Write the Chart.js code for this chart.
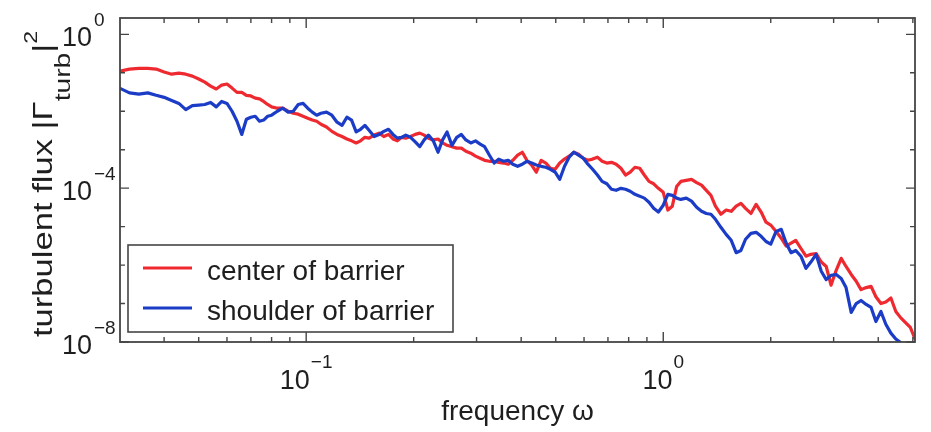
<!DOCTYPE html>
<html>
<head>
<meta charset="utf-8">
<script src="https://cdn.jsdelivr.net/npm/chart.js@4.4.1/dist/chart.umd.min.js"></script>
<style>
  html, body { margin: 0; padding: 0; background: #ffffff; }
  #wrap { width: 931px; height: 432px; }
</style>
</head>
<body>
<div id="wrap"><canvas id="spectrum" width="931" height="432"></canvas></div>
<script>
// Frequency grid shared by both spectra
const frequency = [
  0.030, 0.032, 0.034, 0.036, 0.038, 0.040, 0.042, 0.044, 0.046, 0.048,
  0.050, 0.052, 0.054, 0.056, 0.058, 0.060, 0.062, 0.064, 0.066, 0.068,
  0.070, 0.072, 0.074, 0.076, 0.078, 0.080, 0.083, 0.086, 0.089, 0.092,
  0.095, 0.098, 0.101, 0.104, 0.107, 0.110, 0.114, 0.118, 0.122, 0.126,
  0.130, 0.134, 0.138, 0.142, 0.146, 0.150, 0.155, 0.160, 0.165, 0.170,
  0.175, 0.180, 0.185, 0.190, 0.196, 0.202, 0.208, 0.214, 0.220, 0.227,
  0.234, 0.241, 0.248, 0.256, 0.264, 0.272, 0.280, 0.289, 0.298, 0.307,
  0.316, 0.326, 0.336, 0.346, 0.357, 0.368, 0.379, 0.391, 0.403, 0.415,
  0.428, 0.441, 0.455, 0.469, 0.483, 0.498, 0.513, 0.529, 0.545, 0.562,
  0.579, 0.597, 0.615, 0.634, 0.654, 0.674, 0.695, 0.716, 0.738, 0.761,
  0.784, 0.808, 0.833, 0.859, 0.885, 0.912, 0.940, 0.969, 1.00, 1.03,
  1.06, 1.09, 1.12, 1.16, 1.20, 1.24, 1.28, 1.32, 1.36, 1.40,
  1.45, 1.50, 1.55, 1.60, 1.65, 1.70, 1.76, 1.82, 1.88, 1.94,
  2.00, 2.07, 2.14, 2.21, 2.28, 2.35, 2.43, 2.51, 2.59, 2.68,
  2.77, 2.86, 2.95, 3.05, 3.15, 3.25, 3.36, 3.47, 3.58, 3.70,
  3.82, 3.94, 4.07, 4.20, 4.34, 4.48, 4.62, 4.77, 4.92, 5.07
];

// Turbulent flux spectrum |Gamma_turb|^2 at the barrier center
const centerOfBarrier = [
  0.11, 0.125, 0.13, 0.13, 0.125, 0.105, 9.2e-2, 9.8e-2, 9.2e-2, 8.2e-2,
  6.9e-2, 5.7e-2, 4.5e-2, 3.8e-2, 4.8e-2, 5.1e-2, 4.0e-2, 3.1e-2, 3.1e-2, 2.6e-2,
  2.5e-2, 2.2e-2, 2.1e-2, 1.8e-2, 1.5e-2, 1.3e-2, 1.2e-2, 1.2e-2, 1.0e-2, 8.9e-3,
  8.4e-3, 7.4e-3, 6.6e-3, 5.9e-3, 5.5e-3, 4.6e-3, 3.9e-3, 3.0e-3, 2.5e-3, 2.2e-3,
  1.9e-3, 1.7e-3, 1.5e-3, 1.7e-3, 2.1e-3, 2.0e-3, 2.4e-3, 2.7e-3, 2.2e-3, 2.5e-3,
  1.9e-3, 1.7e-3, 2.1e-3, 2.0e-3, 2.2e-3, 2.5e-3, 2.7e-3, 2.4e-3, 2.0e-3, 1.8e-3,
  1.9e-3, 1.5e-3, 1.3e-3, 1.2e-3, 1.1e-3, 1.1e-3, 9.1e-4, 8.1e-4, 6.8e-4, 6.0e-4,
  5.3e-4, 5.0e-4, 5.0e-4, 4.7e-4, 4.5e-4, 4.2e-4, 5.3e-4, 7.2e-4, 8.6e-4, 5.3e-4,
  4.0e-4, 2.6e-4, 5.3e-4, 4.5e-4, 3.3e-4, 3.1e-4, 4.5e-4, 5.7e-4, 6.8e-4, 8.6e-4,
  7.6e-4, 6.0e-4, 5.3e-4, 5.7e-4, 6.4e-4, 5.0e-4, 4.5e-4, 4.7e-4, 4.2e-4, 3.3e-4,
  2.2e-4, 2.6e-4, 3.5e-4, 3.3e-4, 2.2e-4, 1.5e-4, 1.3e-4, 9.9e-5, 7.8e-5, 2.7e-5,
  3.4e-5, 1.1e-4, 1.5e-4, 1.6e-4, 1.7e-4, 1.4e-4, 1.2e-4, 8.8e-5, 6.5e-5, 3.4e-5,
  2.1e-5, 2.7e-5, 2.5e-5, 3.4e-5, 4.0e-5, 3.0e-5, 2.2e-5, 3.8e-5, 2.4e-5, 1.3e-5,
  1.1e-5, 7.5e-6, 5.0e-6, 3.1e-6, 3.7e-6, 4.4e-6, 2.7e-6, 1.7e-6, 1.9e-6, 2.0e-6,
  1.2e-6, 9.2e-7, 3.0e-7, 7.3e-7, 1.5e-6, 9.2e-7, 5.7e-7, 3.8e-7, 2.3e-7, 2.6e-7,
  2.8e-7, 1.5e-7, 1.0e-7, 1.1e-7, 1.4e-7, 6.2e-8, 4.3e-8, 3.2e-8, 2.4e-8, 1.2e-8
];

// Turbulent flux spectrum at the barrier shoulder
const shoulderOfBarrier = [
  4.0e-2, 3.0e-2, 2.8e-2, 3.0e-2, 2.6e-2, 2.3e-2, 1.9e-2, 1.6e-2, 1.1e-2, 1.4e-2,
  1.45e-2, 1.5e-2, 1.7e-2, 1.3e-2, 1.8e-2, 1.6e-2, 1.0e-2, 5.5e-3, 2.5e-3, 6.2e-3,
  7.0e-3, 7.4e-3, 5.5e-3, 5.9e-3, 7.4e-3, 7.9e-3, 1.0e-2, 1.2e-2, 9.5e-3, 1.0e-2,
  1.5e-2, 1.6e-2, 1.2e-2, 9.5e-3, 7.9e-3, 8.9e-3, 9.5e-3, 7.9e-3, 5.2e-3, 4.3e-3,
  7.0e-3, 5.9e-3, 2.9e-3, 3.4e-3, 4.3e-3, 3.2e-3, 2.2e-3, 2.5e-3, 3.0e-3, 3.4e-3,
  2.5e-3, 2.0e-3, 2.1e-3, 2.4e-3, 2.1e-3, 1.6e-3, 1.2e-3, 1.8e-3, 2.4e-3, 1.7e-3,
  8.6e-4, 1.8e-3, 2.9e-3, 1.3e-3, 2.1e-3, 2.5e-3, 1.8e-3, 1.5e-3, 1.7e-3, 1.4e-3,
  1.2e-3, 7.2e-4, 4.5e-4, 5.7e-4, 5.0e-4, 5.3e-4, 4.2e-4, 3.7e-4, 4.2e-4, 5.0e-4,
  4.5e-4, 4.0e-4, 3.7e-4, 3.5e-4, 3.1e-4, 2.6e-4, 1.7e-4, 3.7e-4, 6.4e-4, 8.6e-4,
  7.2e-4, 6.0e-4, 4.2e-4, 3.1e-4, 2.2e-4, 1.5e-4, 1.3e-4, 9.4e-5, 8.8e-5, 9.9e-5,
  9.4e-5, 8.3e-5, 6.9e-5, 6.2e-5, 5.5e-5, 4.3e-5, 3.0e-5, 2.4e-5, 3.6e-5, 6.9e-5,
  6.5e-5, 5.5e-5, 5.1e-5, 5.5e-5, 4.6e-5, 3.2e-5, 2.5e-5, 2.2e-5, 2.1e-5, 1.55e-5,
  9.6e-6, 6.3e-6, 4.4e-6, 2.1e-6, 2.4e-6, 4.7e-6, 6.7e-6, 7.1e-6, 5.6e-6, 4.1e-6,
  3.5e-6, 7.5e-6, 8.5e-6, 3.7e-6, 2.1e-6, 2.4e-6, 1.7e-6, 8.2e-7, 1.2e-6, 1.9e-6,
  6.9e-7, 4.2e-7, 5.4e-7, 5.7e-7, 4.5e-7, 2.6e-7, 5.9e-8, 1.0e-7, 1.2e-7, 9.5e-8,
  7.9e-8, 3.4e-8, 6.2e-8, 2.9e-8, 1.7e-8, 1.2e-8, 9.7e-9, 8.1e-9, 6.7e-9, 5.3e-9
];

const seriesLabels = ['center of barrier', 'shoulder of barrier'];
const seriesColors = ['#ee2a30', '#1b3cc6'];

// Axis ranges and labelled decades
const xRange = [0.0301, 5.07];
const yRange = [1e-8, 2.66];
const xTickExponents = [-1, 0];
const yTickExponents = [0, -4, -8];
const xAxisTitle = 'frequency \u03c9';

const FONT = "'Liberation Sans', Arial, Helvetica, sans-serif";
const INK = '#1e1e1e';
const FRAME = '#454545';

function toPoints(ys) {
  return frequency.map((f, i) => ({ x: f, y: ys[i] }));
}

function expLabel(e) {
  return e < 0 ? '\u2212' + Math.abs(e) : String(e);
}

// Box frame, inward ticks, power-of-ten labels, titles and boxed legend
const framePlugin = {
  id: 'framePlugin',
  afterDatasetsDraw(chart) {
    const { ctx, chartArea: a } = chart;
    const xs = chart.scales.x, ys = chart.scales.y;
    ctx.save();

    // frame
    ctx.strokeStyle = FRAME;
    ctx.lineWidth = 1.8;
    ctx.strokeRect(a.left, a.top, a.right - a.left, a.bottom - a.top);

    // x ticks (decades and in-between multiples)
    ctx.beginPath();
    ctx.lineWidth = 1.4;
    for (let d = -2; d <= 0; d++) {
      for (let m = 1; m <= 9; m++) {
        const v = m * Math.pow(10, d);
        if (v <= xs.min * 1.001 || v >= xs.max * 0.999) continue;
        const px = xs.getPixelForValue(v);
        const len = m === 1 ? 10 : 5;
        ctx.moveTo(px, a.bottom); ctx.lineTo(px, a.bottom - len);
        ctx.moveTo(px, a.top); ctx.lineTo(px, a.top + len);
      }
    }
    // y ticks at every decade
    for (let k = 0; k >= -8; k--) {
      const py = ys.getPixelForValue(Math.pow(10, k));
      const len = yTickExponents.includes(k) ? 9 : 5;
      ctx.moveTo(a.left, py); ctx.lineTo(a.left + len, py);
      ctx.moveTo(a.right, py); ctx.lineTo(a.right - len, py);
    }
    ctx.stroke();

    // tick labels
    ctx.fillStyle = INK;
    ctx.textBaseline = 'alphabetic';
    const bigFont = '27px ' + FONT;
    const supFont = '19px ' + FONT;

    yTickExponents.forEach(e => {
      const py = ys.getPixelForValue(Math.pow(10, e));
      ctx.font = bigFont; ctx.textAlign = 'right';
      ctx.fillText('10', 92, py + 12);
      ctx.font = supFont; ctx.textAlign = 'left';
      ctx.fillText(expLabel(e), 94, py - 8);
    });

    xTickExponents.forEach(e => {
      const px = xs.getPixelForValue(Math.pow(10, e));
      ctx.font = bigFont;
      const w1 = ctx.measureText('10').width;
      ctx.font = supFont;
      const w2 = ctx.measureText(expLabel(e)).width;
      const start = px - (w1 + w2 + 1) / 2;
      ctx.textAlign = 'left';
      ctx.font = bigFont; ctx.fillText('10', start, 389);
      ctx.font = supFont; ctx.fillText(expLabel(e), start + w1 + 1, 368);
    });

    // x axis title
    ctx.font = '28px ' + FONT;
    ctx.textAlign = 'center';
    ctx.fillText(xAxisTitle, (a.left + a.right) / 2, 420);

    // y axis title with subscript and superscript, written bottom to top
    const parts = [
      { t: 'turbulent flux |\u0393', size: 27, dy: 0 },
      { t: 'turb', size: 22, dy: 18 },
      { t: '|', size: 27, dy: 0 },
      { t: '2', size: 18, dy: -15 }
    ];
    let total = 0;
    parts.forEach(p => { ctx.font = p.size + 'px ' + FONT; p.w = ctx.measureText(p.t).width; total += p.w; });
    const span = 306;
    ctx.save();
    ctx.translate(52, 337);
    ctx.rotate(-Math.PI / 2);
    ctx.scale(span / total, 1);
    ctx.textAlign = 'left';
    let cx = 0;
    parts.forEach(p => {
      ctx.font = p.size + 'px ' + FONT;
      ctx.fillText(p.t, cx, p.dy);
      cx += p.w;
    });
    ctx.restore();

    // legend box
    const box = { l: 128, t: 245, r: 453, b: 332 };
    ctx.fillStyle = '#ffffff';
    ctx.fillRect(box.l, box.t, box.r - box.l, box.b - box.t);
    ctx.strokeStyle = FRAME;
    ctx.lineWidth = 1.6;
    ctx.strokeRect(box.l, box.t, box.r - box.l, box.b - box.t);
    const rows = [268, 308];
    chart.data.datasets.forEach((ds, i) => {
      const y = rows[i];
      ctx.strokeStyle = ds.borderColor;
      ctx.lineWidth = 2.8;
      ctx.beginPath();
      ctx.moveTo(143, y); ctx.lineTo(192, y);
      ctx.stroke();
      ctx.fillStyle = INK;
      ctx.font = '28px ' + FONT;
      ctx.textAlign = 'left';
      ctx.fillText(ds.label, 207, y + 12);
    });

    ctx.restore();
  }
};

new Chart(document.getElementById('spectrum'), {
  type: 'line',
  data: {
    datasets: [
      {
        label: seriesLabels[0],
        data: toPoints(centerOfBarrier),
        borderColor: seriesColors[0],
        borderWidth: 3.2,
        order: 1
      },
      {
        label: seriesLabels[1],
        data: toPoints(shoulderOfBarrier),
        borderColor: seriesColors[1],
        borderWidth: 3.2,
        order: 0
      }
    ]
  },
  options: {
    responsive: false,
    animation: false,
    devicePixelRatio: 1,
    layout: { padding: { left: 120, top: 18, right: 16, bottom: 90 } },
    elements: {
      point: { radius: 0, hoverRadius: 0 },
      line: { tension: 0, fill: false, borderJoinStyle: 'round', borderCapStyle: 'round' }
    },
    scales: {
      x: { type: 'logarithmic', min: xRange[0], max: xRange[1], bounds: 'data', display: false },
      y: { type: 'logarithmic', min: yRange[0], max: yRange[1], bounds: 'data', display: false }
    },
    plugins: {
      legend: { display: false },
      tooltip: { enabled: false }
    }
  },
  plugins: [framePlugin]
});
</script>
</body>
</html>
